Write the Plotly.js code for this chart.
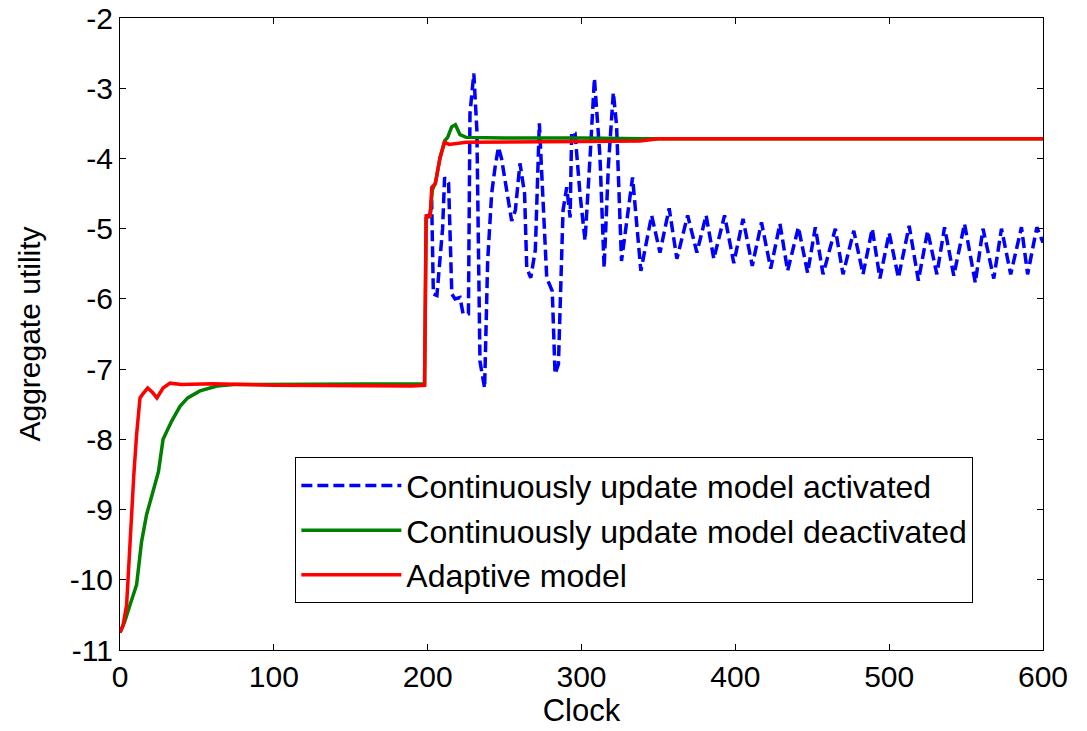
<!DOCTYPE html>
<html>
<head>
<meta charset="utf-8">
<script src="https://cdn.plot.ly/plotly-3.0.1.min.js"></script>
<style>html,body{margin:0;padding:0;background:#fff;}#chart{width:1087px;height:731px;}</style>
</head>
<body>
<div id="chart"></div>
<script>
const seriesNames = ["Continuously update model activated", "Continuously update model deactivated", "Adaptive model"];

const blueX = [199, 201.6, 202.6, 203.7, 206, 209.7, 211, 213.6, 215.7, 217.8, 221, 223, 226.5, 227.5, 230, 232, 234, 237, 239, 241.6, 243.8, 246, 248, 251, 254.6, 257, 260, 263, 264.4, 267, 270, 272.6, 275, 277.4, 281, 282.8, 285, 288, 290.4, 292.6, 293.6, 295.8, 299, 302.3, 305.6, 308.4, 312, 314.7, 317.5, 320.7, 322.8, 326, 333.2, 338.6, 345.6, 351, 357, 362, 369, 375, 381, 386, 393, 399, 405, 411, 417, 423, 429, 434, 441, 447, 452, 457, 465, 470, 477, 483, 489, 494, 500, 506, 513, 519, 525, 531, 536, 542, 549, 556, 561, 568, 573, 579, 586, 590, 596, 600];
const blueY = [-4.82, -4.8, -4.6, -5.93, -5.95, -5.0, -4.27, -4.35, -5.93, -6.0, -5.98, -6.21, -6.21, -3.36, -2.79, -3.6, -6.89, -7.27, -5.46, -4.5, -4.13, -3.84, -4.0, -4.41, -4.89, -4.74, -4.07, -4.5, -5.56, -5.7, -5.3, -3.5, -4.5, -5.7, -5.89, -7.07, -6.93, -4.74, -4.41, -4.84, -3.63, -3.64, -4.5, -5.17, -3.97, -2.86, -3.97, -5.56, -4.1, -3.06, -3.53, -5.46, -4.27, -5.6, -4.81, -5.34, -4.71, -5.43, -4.81, -5.34, -4.81, -5.43, -4.81, -5.49, -4.86, -5.53, -4.91, -5.57, -4.93, -5.6, -4.98, -5.63, -4.98, -5.65, -5.0, -5.65, -5.03, -5.65, -5.0, -5.71, -5.06, -5.7, -4.96, -5.74, -5.03, -5.65, -4.98, -5.67, -4.93, -5.77, -5.0, -5.71, -5.0, -5.65, -4.98, -5.65, -4.98, -5.2];

const greenX = [0, 3, 6.5, 10.8, 14, 17.3, 21.5, 25, 28, 33.6, 39, 44, 52, 63, 74, 100, 150, 198, 199, 201.6, 203, 205, 208, 211, 213, 215.6, 218, 221, 225, 250, 300, 340, 600];
const greenY = [-10.75, -10.6, -10.36, -10.07, -9.46, -9.07, -8.74, -8.46, -8.0, -7.74, -7.53, -7.41, -7.31, -7.24, -7.22, -7.22, -7.21, -7.21, -4.85, -4.82, -4.45, -4.35, -4.0, -3.75, -3.7, -3.55, -3.52, -3.66, -3.7, -3.71, -3.71, -3.72, -3.72];

const redX = [0, 2, 4.3, 7.6, 9, 10.8, 13, 15, 18, 21, 24, 28, 32.5, 40, 60, 100, 150, 190, 198, 199, 201.6, 202.7, 205, 208, 211, 214, 225, 260, 300, 338, 350, 600];
const redY = [-10.75, -10.65, -10.36, -8.99, -8.5, -7.93, -7.41, -7.35, -7.27, -7.33, -7.41, -7.27, -7.2, -7.22, -7.21, -7.23, -7.24, -7.24, -7.23, -4.82, -4.82, -4.41, -4.36, -3.99, -3.77, -3.8, -3.77, -3.77, -3.76, -3.75, -3.72, -3.72];

const xTicks = [0, 100, 200, 300, 400, 500, 600];
const yTicks = [-11, -10, -9, -8, -7, -6, -5, -4, -3, -2];

const font = "Liberation Sans, Arial, sans-serif";

const traces = [
  {x: blueX, y: blueY, name: seriesNames[0], mode: "lines", line: {color: "#0000ff", width: 3.5, dash: "11px,5px"}},
  {x: greenX, y: greenY, name: seriesNames[1], mode: "lines", line: {color: "#008000", width: 3.5}},
  {x: redX, y: redY, name: seriesNames[2], mode: "lines", line: {color: "#ff0000", width: 3.5}}
];

const axisCommon = {
  showline: true, linecolor: "#000", linewidth: 1, mirror: "ticks",
  ticks: "inside", ticklen: 6, tickcolor: "#000", tickwidth: 1,
  showgrid: false, zeroline: false,
  tickfont: {family: font, size: 30, color: "#000"}
};

const layout = {
  width: 1087, height: 731,
  margin: {l: 120, r: 44, t: 18, b: 81},
  paper_bgcolor: "#fff", plot_bgcolor: "#fff",
  showlegend: true,
  xaxis: Object.assign({}, axisCommon, {
    range: [0, 600], tickvals: xTicks, ticktext: xTicks.map(String),
    title: {text: "Clock", font: {family: font, size: 31, color: "#000"}, standoff: 7}
  }),
  yaxis: Object.assign({}, axisCommon, {
    range: [-11, -2], tickvals: yTicks, ticktext: yTicks.map(String),
    title: {text: "Aggregate utility", font: {family: font, size: 30, color: "#000"}, standoff: 20}
  }),
  legend: {
    x: 0.19, y: 0.305, xanchor: "left", yanchor: "top",
    bgcolor: "#fff", bordercolor: "#000", borderwidth: 1,
    font: {family: font, size: 32, color: "#000"},
    itemwidth: 100, tracegroupgap: 0
  }
};

Plotly.newPlot("chart", traces, layout, {displayModeBar: false, staticPlot: true});
</script>
</body>
</html>
